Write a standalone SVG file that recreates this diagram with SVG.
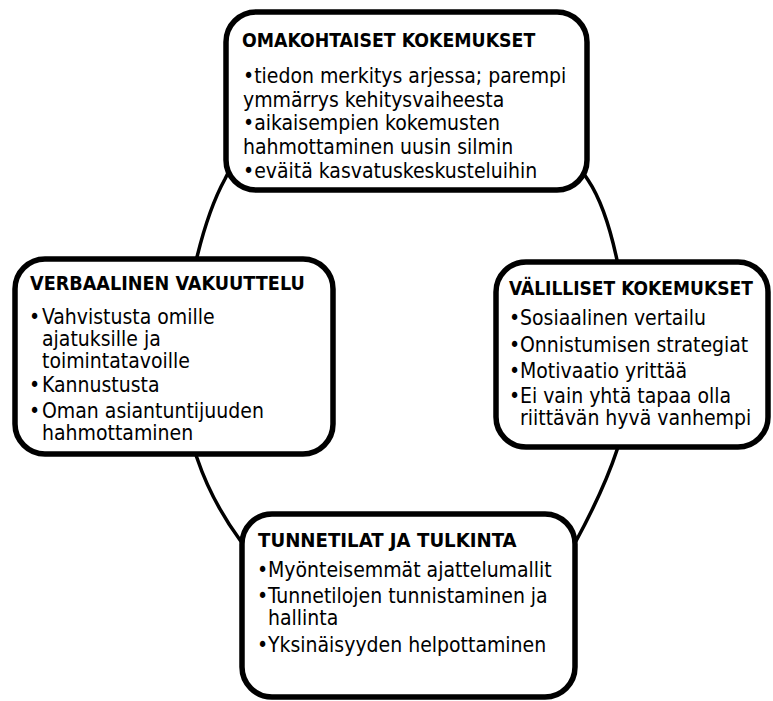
<svg xmlns="http://www.w3.org/2000/svg" width="773" height="701" viewBox="0 0 773 701">
<style>
.box{fill:#fff;stroke:#000;stroke-width:5.5}
.arc{fill:none;stroke:#000;stroke-width:3.5;stroke-linejoin:round}
text{font-family:"DejaVu Sans Condensed","DejaVu Sans",sans-serif;fill:#000}
.t{font-weight:bold;font-size:19.5px}
.b{font-size:21px}
</style>
<rect width="773" height="701" fill="#fff"/>
<g id="connectors">
<path class="arc" d="M231 167 L225 179 Q209 208 197 257 L194.5 267"/>
<path class="arc" d="M581 169.6 L588 180 Q605.5 206 617 260 L619 271"/>
<path class="arc" d="M191 441 L197 458 Q211.5 501 240 540 L248.5 552"/>
<path class="arc" d="M622 434 L617 450 Q604 489.5 575 543 L566 559"/>
</g>
<g id="node-top">
<rect class="box" x="226" y="12" width="361" height="178" rx="30"/>
<text class="t" x="242" y="47" style="font-size:19.3px">OMAKOHTAISET KOKEMUKSET</text>
<text class="b"><tspan x="243" y="83">•tiedon merkitys arjessa; parempi</tspan><tspan x="243" y="106.7">ymmärrys kehitysvaiheesta</tspan></text>
<text class="b"><tspan x="243" y="130.4">•aikaisempien kokemusten</tspan><tspan x="243" y="154.1">hahmottaminen uusin silmin</tspan></text>
<text class="b" x="243" y="177.8">•eväitä kasvatuskeskusteluihin</text>
</g>
<g id="node-left">
<rect class="box" x="15" y="259" width="318" height="195" rx="30"/>
<text class="t" x="30" y="290" style="font-size:19.6px">VERBAALINEN VAKUUTTELU</text>
<text class="b" x="29" y="323.5">•</text>
<text class="b"><tspan x="42" y="323.5">Vahvistusta omille</tspan><tspan x="42" y="345.5">ajatuksille ja</tspan><tspan x="42" y="367.5">toimintatavoille</tspan></text>
<text class="b" x="29" y="392">•</text>
<text class="b" x="42" y="392">Kannustusta</text>
<text class="b" x="29" y="418">•</text>
<text class="b"><tspan x="42" y="418">Oman asiantuntijuuden</tspan><tspan x="42" y="440">hahmottaminen</tspan></text>
</g>
<g id="node-right">
<rect class="box" x="496" y="262" width="272" height="185" rx="30"/>
<text class="t" x="509" y="295" style="font-size:19px">VÄLILLISET KOKEMUKSET</text>
<text class="b" x="509" y="325">•</text>
<text class="b" x="520" y="325">Sosiaalinen vertailu</text>
<text class="b" x="509" y="352">•</text>
<text class="b" x="520" y="352">Onnistumisen strategiat</text>
<text class="b" x="509" y="378">•</text>
<text class="b" x="520" y="378">Motivaatio yrittää</text>
<text class="b" x="509" y="403">•</text>
<text class="b"><tspan x="520" y="403">Ei vain yhtä tapaa olla</tspan><tspan x="520" y="425">riittävän hyvä vanhempi</tspan></text>
</g>
<g id="node-bottom">
<rect class="box" x="242" y="514" width="333" height="183" rx="30"/>
<text class="t" x="258" y="547" style="font-size:20.2px">TUNNETILAT JA TULKINTA</text>
<text class="b" x="257" y="577">•</text>
<text class="b" x="268" y="577">Myönteisemmät ajattelumallit</text>
<text class="b" x="257" y="603">•</text>
<text class="b"><tspan x="268" y="603">Tunnetilojen tunnistaminen ja</tspan><tspan x="268" y="625">hallinta</tspan></text>
<text class="b" x="257" y="652">•</text>
<text class="b" x="268" y="652">Yksinäisyyden helpottaminen</text>
</g>
</svg>
